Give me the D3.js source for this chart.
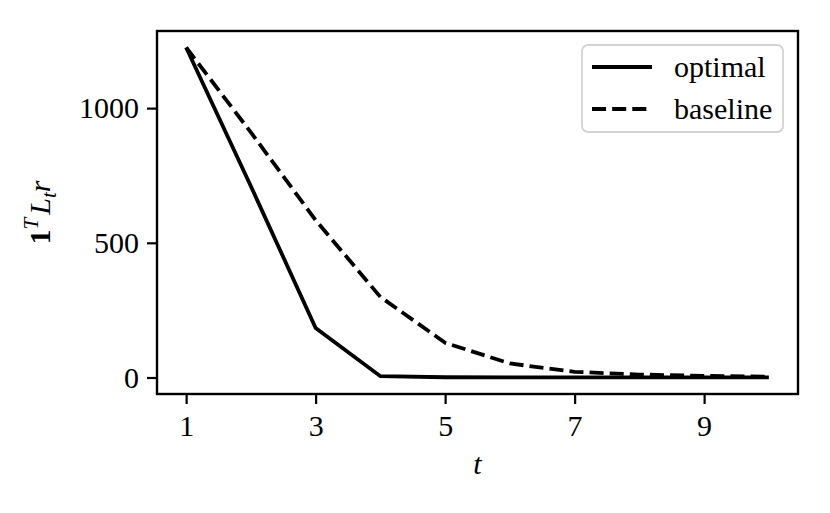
<!DOCTYPE html>
<html>
<head>
<meta charset="utf-8">
<script src="https://cdn.jsdelivr.net/npm/d3@7"></script>
<style>
  body { margin: 0; background: #fff; }
  text { font-family: "Liberation Serif", "DejaVu Serif", serif; fill: #000; }
</style>
</head>
<body>
<div class="container"></div>
<script>
var steps = [1, 2, 3, 4, 5, 6, 7, 8, 9, 10];
var optimal = [1225, 710, 184, 5, 1, 0.5, 0.3, 0.2, 0.1, 0.1];
var baseline = [1225, 910, 584, 299, 129, 52, 21, 11, 6, 3];
var xTicks = [1, 3, 5, 7, 9];
var yTicks = [0, 500, 1000];

var W = 830, H = 513;
var pLeft = 157, pRight = 798, pTop = 31, pBottom = 394;
var fs = 30;
var lw = 3.8;
var dash = (3.7 * lw) + ',' + (1.6 * lw);

var svg = d3.select('.container')
    .append('svg')
    .attr('width', W)
    .attr('height', H);

// matplotlib style 5% margins
var x = d3.scaleLinear().domain([0.55, 10.45]).range([pLeft, pRight]);
var ymax = d3.max(baseline.concat(optimal));
var y = d3.scaleLinear().domain([-0.05 * ymax, 1.05 * ymax]).range([pBottom, pTop]);

var line = d3.line()
    .x(function(d, i) { return x(steps[i]); })
    .y(function(d) { return y(d); });

svg.append('path')
    .datum(optimal)
    .attr('d', line)
    .style('fill', 'none')
    .style('stroke', 'black')
    .style('stroke-width', lw);

svg.append('path')
    .datum(baseline)
    .attr('d', line)
    .style('fill', 'none')
    .style('stroke', 'black')
    .style('stroke-width', lw)
    .style('stroke-dasharray', dash);

// axes
var xAxis = d3.axisBottom(x).tickValues(xTicks).tickSize(10).tickPadding(8).tickFormat(d3.format('d'));
var yAxis = d3.axisLeft(y).tickValues(yTicks).tickSize(10).tickPadding(8).tickFormat(d3.format('d'));

var gx = svg.append('g').attr('transform', 'translate(0,' + pBottom + ')').call(xAxis);
var gy = svg.append('g').attr('transform', 'translate(' + pLeft + ',0)').call(yAxis);

[gx, gy].forEach(function(g) {
    g.select('.domain').remove();
    g.selectAll('.tick line').style('stroke', 'black').style('stroke-width', 2.2);
    g.selectAll('.tick text')
        .style('font-size', fs + 'px')
        .style('font-family', '"Liberation Serif", serif');
});
gx.selectAll('.tick text').attr('dy', '0.8em');

// frame
svg.append('rect')
    .attr('x', pLeft)
    .attr('y', pTop)
    .attr('width', pRight - pLeft)
    .attr('height', pBottom - pTop)
    .style('fill', 'none')
    .style('stroke', 'black')
    .style('stroke-width', 2.4);

// axis labels
svg.append('text')
    .attr('x', (pLeft + pRight) / 2)
    .attr('y', 474)
    .attr('text-anchor', 'middle')
    .style('font-size', fs + 'px')
    .style('font-style', 'italic')
    .text('t');

var ylab = svg.append('text')
    .attr('transform', 'translate(50,' + ((pTop + pBottom) / 2) + ') rotate(-90)')
    .attr('text-anchor', 'middle')
    .style('font-size', fs + 'px');
ylab.append('tspan').style('font-weight', 'bold').text('1');
ylab.append('tspan').attr('dy', -12).style('font-size', '21px').style('font-style', 'italic').text('T');
ylab.append('tspan').attr('dy', 12).attr('dx', 3).style('font-style', 'italic').text('L');
ylab.append('tspan').attr('dy', 6).style('font-size', '21px').style('font-style', 'italic').text('t');
ylab.append('tspan').attr('dy', -6).style('font-style', 'italic').text('r');

// legend
var legendNames = ['optimal', 'baseline'];
var legendDash = ['none', dash];

svg.append('rect')
    .attr('x', 582)
    .attr('y', 45)
    .attr('width', 201)
    .attr('height', 87)
    .attr('rx', 6)
    .style('fill', 'white')
    .style('fill-opacity', 0.8)
    .style('stroke', '#d3d3d3')
    .style('stroke-width', 1.8);

var lg = svg.selectAll('.leg')
    .data(legendNames)
    .enter()
    .append('g')
    .attr('class', 'leg')
    .attr('transform', function(d, i) { return 'translate(0,' + (67 + i * 42) + ')'; });

lg.append('line')
    .attr('x1', 592)
    .attr('x2', 652)
    .attr('y1', 0)
    .attr('y2', 0)
    .style('stroke', 'black')
    .style('stroke-width', lw)
    .style('stroke-dasharray', function(d, i) { return legendDash[i]; });

lg.append('text')
    .attr('x', 674)
    .attr('y', 10)
    .style('font-size', fs + 'px')
    .text(function(d) { return d; });
</script>
</body>
</html>
